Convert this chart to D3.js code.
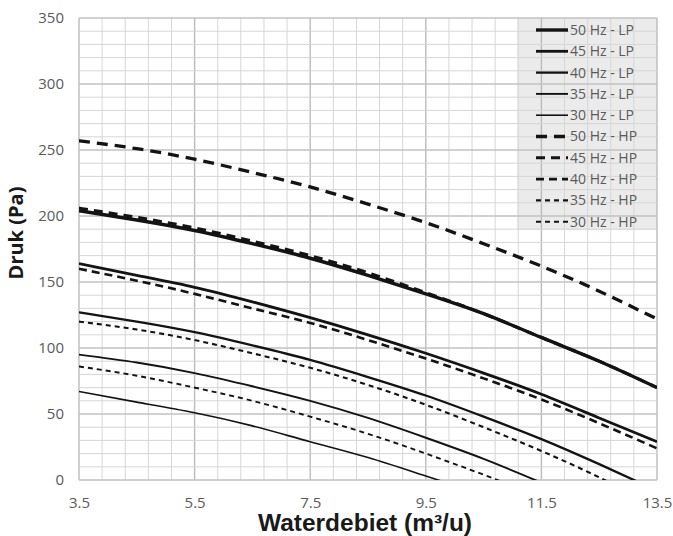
<!DOCTYPE html>
<html>
<head>
<meta charset="utf-8">
<script src="https://cdn.jsdelivr.net/npm/d3@7"></script>
<style>
  body { margin: 0; background: #fff; }
  svg { display: block; }
</style>
</head>
<body>
<div id="canvas"></div>
<script>
// flow (m3/u) and pressure (Pa) per fan speed
var flow = [3.5, 4.5, 5.5, 6.5, 7.5, 8.5, 9.5, 10.5, 11.5, 12.5, 13.5];

var lp50 = [204, 197, 189, 179, 168, 155, 141, 126, 108, 90, 70];
var lp45 = [164, 155, 146, 135, 123, 110, 96, 81, 65, 47, 29];
var lp40 = [127, 120, 112, 102, 91, 78, 64, 48, 31, 12, -8];
var lp35 = [95, 89, 81, 71, 60, 47, 32, 16, -2, null, null];
var lp30 = [67, 59, 51, 41, 29, 17, 3, -11, null, null, null];

var hp50 = [257, 251, 243, 233, 222, 209, 195, 179, 162, 143, 122];
var hp45 = [206, 199, 191, 181, 170, 157, 142, 126, 108, 90, 70];
var hp40 = [160, 151, 141, 130, 119, 106, 92, 77, 61, 43, 24];
var hp35 = [120, 114, 106, 96, 85, 72, 57, 40, 22, 2, -20];
var hp30 = [86, 79, 70, 60, 48, 35, 20, 4, -13, null, null];

var names = ['50 Hz - LP', '45 Hz - LP', '40 Hz - LP', '35 Hz - LP', '30 Hz - LP',
             '50 Hz - HP', '45 Hz - HP', '40 Hz - HP', '35 Hz - HP', '30 Hz - HP'];
var values = [lp50, lp45, lp40, lp35, lp30, hp50, hp45, hp40, hp35, hp30];

var xTicks = [3.5, 5.5, 7.5, 9.5, 11.5, 13.5];
var yTicks = [0, 50, 100, 150, 200, 250, 300, 350];

// line styles per series (same order as names)
var widths = [3.4, 2.8, 2.3, 1.9, 1.6, 3.3, 3.0, 2.6, 2.1, 1.9];
var dashes = [null, null, null, null, null, '11,7', '9,6', '8,5', '5,4', '5,4'];

var W = 673, H = 536;
var m = {t: 18, r: 16, b: 56, l: 79},
    w = W - m.l - m.r,
    h = H - m.t - m.b;

var svg = d3.select('#canvas')
    .append('svg')
    .attr('width', W)
    .attr('height', H);

var plot = svg.append('g')
    .attr('class', 'plot')
    .attr('transform', 'translate(' + m.l + ',' + m.t + ')');

var x = d3.scaleLinear().domain([3.5, 13.5]).range([0, w]);
var y = d3.scaleLinear().domain([0, 350]).range([h, 0]);

// legend background sits under the grid
var lgX = 517 - m.l, lgY = 0, lgW = w - (517 - m.l), lgH = 212;
plot.append('rect')
    .attr('x', lgX).attr('y', lgY)
    .attr('width', lgW).attr('height', lgH)
    .style('fill', '#ebebeb');

//Grid
var minorX = d3.range(26).map(function(i){ return 3.5 + i * 0.4; });
var minorY = d3.range(36).map(function(i){ return i * 10; });

plot.selectAll('.vgrid')
    .data(minorX)
    .enter()
    .append('line')
    .attr('x1', function(d){ return x(d); })
    .attr('x2', function(d){ return x(d); })
    .attr('y1', 0).attr('y2', h)
    .style('stroke', function(d, i){ return i % 5 === 0 ? '#bbbbbb' : '#d6d6d6'; })
    .style('stroke-width', function(d, i){ return i % 5 === 0 ? 1.4 : 1; });

plot.selectAll('.hgrid')
    .data(minorY)
    .enter()
    .append('line')
    .attr('y1', function(d){ return y(d); })
    .attr('y2', function(d){ return y(d); })
    .attr('x1', 0).attr('x2', w)
    .style('stroke', function(d){ return d % 50 === 0 ? '#c2c2c2' : '#d6d6d6'; })
    .style('stroke-width', function(d){ return d % 50 === 0 ? 1.3 : 1; });

//Axes (labels only)
var xAxis = d3.axisBottom(x).tickValues(xTicks).tickSize(0).tickPadding(17)
    .tickFormat(function(d){ return String(d); });
var yAxis = d3.axisLeft(y).tickValues(yTicks).tickSize(0).tickPadding(15);

plot.append('g')
    .attr('class', 'axis')
    .attr('transform', 'translate(0,' + h + ')')
    .call(xAxis);
plot.append('g')
    .attr('class', 'axis')
    .call(yAxis);

plot.selectAll('.axis .domain').remove();
plot.selectAll('.axis text')
    .style('font-family', '"Open Sans", sans-serif')
    .style('font-size', '15px')
    .style('fill', '#5a5a5a');

//Curves
plot.append('clipPath').attr('id', 'clip')
    .append('rect').attr('width', w).attr('height', h);

var line = d3.line()
    .defined(function(d){ return d[1] != null; })
    .x(function(d){ return x(d[0]); })
    .y(function(d){ return y(d[1]); })
    .curve(d3.curveNatural);

plot.append('g')
    .attr('clip-path', 'url(#clip)')
    .selectAll('.curve')
    .data(values)
    .enter()
    .append('path')
    .attr('class', 'curve')
    .attr('d', function(v){
        return line(flow.map(function(f, i){ return [f, v[i]]; }));
    })
    .style('fill', 'none')
    .style('stroke', '#131313')
    .style('stroke-width', function(d, i){ return widths[i]; })
    .style('stroke-dasharray', function(d, i){ return dashes[i]; });

//Legend
var rows = plot.selectAll('.lg')
    .data(names)
    .enter()
    .append('g')
    .attr('class', 'lg')
    .attr('transform', function(d, i){ return 'translate(' + (536 - m.l) + ',' + (12 + i * 21.3) + ')'; });

rows.append('line')
    .attr('x1', 0).attr('x2', 32)
    .style('stroke', '#131313')
    .style('stroke-width', function(d, i){ return widths[i]; })
    .style('stroke-dasharray', function(d, i){ return dashes[i]; });

rows.append('text')
    .attr('x', 34)
    .attr('dy', '0.35em')
    .text(function(d){ return d; })
    .style('font-family', '"Open Sans", sans-serif')
    .style('font-size', '14px')
    .style('fill', '#5a5a5a');

//Axis titles
svg.append('text')
    .attr('x', 365)
    .attr('y', 531)
    .attr('text-anchor', 'middle')
    .attr('textLength', 214)
    .attr('lengthAdjust', 'spacingAndGlyphs')
    .style('font-family', '"Liberation Sans Narrow", "Liberation Sans", Arial, sans-serif')
    .style('font-weight', 'bold')
    .style('font-size', '23px')
    .style('fill', '#1a1a1a')
    .text('Waterdebiet (m\u00b3/u)');

svg.append('text')
    .attr('transform', 'translate(23,233) rotate(-90)')
    .attr('text-anchor', 'middle')
    .style('font-family', '"Open Sans", sans-serif')
    .style('font-weight', 'bold')
    .style('font-size', '20px')
    .style('fill', '#1a1a1a')
    .text('Druk (Pa)');
</script>
</body>
</html>
